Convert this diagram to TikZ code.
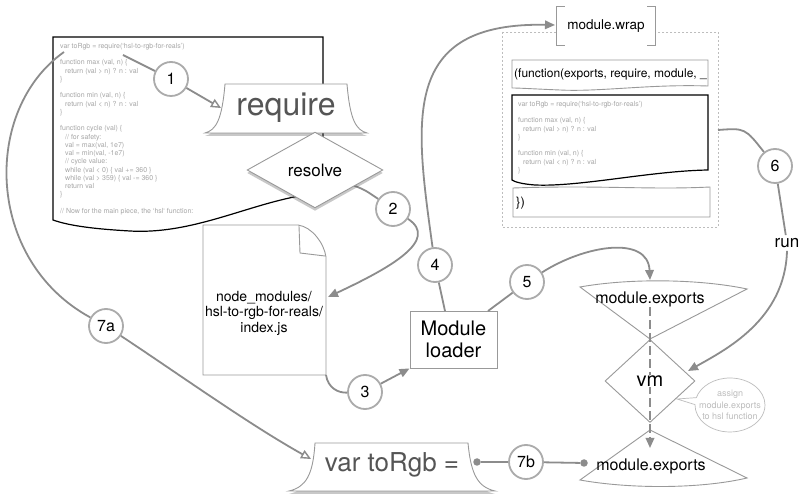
\documentclass[tikz,border=0pt]{standalone}
\usepackage{fontspec}
\setmainfont{TeX Gyre Heros}
\usetikzlibrary{shapes.geometric,shapes.callouts,arrows.meta,shadows}
\definecolor{connc}{HTML}{8C8C8C}
\definecolor{circc}{HTML}{ABABAB}
\definecolor{edgec}{HTML}{999999}
\definecolor{darkc}{HTML}{555555}
\definecolor{codec}{HTML}{A6A6A6}
\definecolor{faintc}{HTML}{BDBDBD}
\tikzset{
  conn/.style={draw=connc, line width=1.8pt},
  fillarrow/.style={-{Triangle[length=10pt,width=8.5pt]}},
  openarrow/.style={-{Triangle[open,length=10pt,width=9pt,line width=1.4pt]}},
  num/.style={circle, draw=circc, line width=1.8pt, fill=white, minimum size=34pt, inner sep=0pt, font=\fontsize{16}{16}\selectfont},
  codetext/.style={align=left, anchor=north west, text=codec, font=\fontsize{7}{8.25}\selectfont, inner sep=0pt},
  shade/.style={drop shadow={shadow xshift=0pt, shadow yshift=-3pt, opacity=0.3, fill=black!70}},
  thinedge/.style={draw=edgec, line width=0.9pt},
  dotnode/.style={circle, fill=connc, minimum size=7.5pt, inner sep=0pt},
}
\begin{document}
\begin{tikzpicture}[x=1pt,y=-1pt]
\useasboundingbox (0,0) rectangle (809,502);
\fill[white] (0,0) rectangle (809,502);

% ---------- left code document ----------
\path[draw=black, line width=1.2pt, fill=white] (53,37) -- (323,37) -- (323,193)
  .. controls (260,197) and (200,235) .. (130,231)
  .. controls (95,229) and (70,226) .. (53,220) -- cycle;
\node[codetext] (codeL) at (60,43) {var toRgb = require(`hsl-to-rgb-for-reals')\\
\mbox{}\\
function max (val, n) \{\\
\hspace*{5pt}return (val > n) ? n : val\\
\}\\
\mbox{}\\
function min (val, n) \{\\
\hspace*{5pt}return (val < n) ? n : val\\
\}\\
\mbox{}\\
function cycle (val) \{\\
\hspace*{5pt}// for safety:\\
\hspace*{5pt}val = max(val, 1e7)\\
\hspace*{5pt}val = min(val, -1e7)\\
\hspace*{5pt}// cycle value:\\
\hspace*{5pt}while (val < 0) \{ val += 360 \}\\
\hspace*{5pt}while (val > 359) \{ val -= 360 \}\\
\hspace*{5pt}return val\\
\}\\
\mbox{}\\
// Now for the main piece, the `hsl` function:};

% ---------- module.wrap container ----------
\draw[faintc, line width=0.7pt, dash pattern=on 2pt off 2pt] (502,32) rectangle (718,227);
\node[fill=white, minimum width=98pt, minimum height=38pt, inner sep=0pt, font=\fontsize{13.5}{14}\selectfont] (wrap) at (606,26) {module.wrap};
\draw[edgec, line width=1pt] ([xshift=8pt]wrap.north west) -- (wrap.north west) -- (wrap.south west) -- ([xshift=8pt]wrap.south west);
\draw[edgec, line width=1pt] ([xshift=-8pt]wrap.north east) -- (wrap.north east) -- (wrap.south east) -- ([xshift=-8pt]wrap.south east);

\path[thinedge, fill=white] (512,60) -- (708,60) -- (708,86)
  .. controls (650,84) and (600,92) .. (560,90)
  .. controls (535,89) and (520,88) .. (512,88) -- cycle;
\node[anchor=west, inner sep=0pt, font=\fontsize{12}{12}\selectfont] (fnhead) at (514,74) {(function(exports, require, module, \_};

\path[draw=black, line width=1.2pt, fill=white] (512,95) -- (708,95) -- (708,170)
  .. controls (650,171) and (580,187) .. (535,185)
  .. controls (522,184) and (515,182) .. (512,180) -- cycle;
\node[codetext] (codeW) at (518,101) {var toRgb = require(`hsl-to-rgb-for-reals')\\
\mbox{}\\
function max (val, n) \{\\
\hspace*{5pt}return (val > n) ? n : val\\
\}\\
\mbox{}\\
function min (val, n) \{\\
\hspace*{5pt}return (val < n) ? n : val\\
\}};

\path[thinedge, fill=white] (513,188) .. controls (600,185) and (650,190) .. (710,187) -- (710,217) -- (513,217) -- cycle;
\node[anchor=west, inner sep=0pt, font=\fontsize{13}{13}\selectfont] (fnclose) at (516,203) {\})};

% ---------- node_modules document ----------
\path[thinedge, fill=white] (203,225) -- (298,225) .. controls (312,227) and (324,243) .. (326,257) -- (326,375) -- (203,375) -- cycle;
\draw[edgec, line width=0.9pt] (299,226) -- (300,253) -- (325,256);
\node[align=center, inner sep=0pt, font=\fontsize{14}{15.5}\selectfont] (docf) at (264,313) {node\_modules/\\hsl-to-rgb-for-reals/\\index.js};

% ---------- Module loader ----------
\node[thinedge, fill=white, minimum width=87pt, minimum height=57pt, inner sep=0pt, align=center, font=\fontsize{20}{22}\selectfont] (ml) at (453.5,339.5) {Module\\loader};

% ---------- coordinates ----------
\coordinate (c1s) at (123,55);
\coordinate (reqL) at (221,108);
\coordinate (c7s) at (64,52);
\coordinate (vtL) at (311,459);
\coordinate (docA) at (328,297);
\coordinate (docSE) at (326,375);
\coordinate (ml4) at (445,311);
\coordinate (ml5) at (488,311);
\coordinate (wrapTip) at (555,25);
\coordinate (expTip) at (650,280);
\coordinate (w6) at (718,130);
\coordinate (vmTip) at (688,371);
\coordinate (dashS) at (650,307);
\coordinate (dashE) at (650,448);
\coordinate (vmpt) at (677,399);

% ---------- numbered circles ----------
\node[num] (n1) at (171,79) {1};
\node[num] (n2) at (393,209) {2};
\node[num] (n3) at (365,392) {3};
\node[num] (n4) at (435,265) {4};
\node[num] (n5) at (527,282) {5};
\node[num] (n6) at (775,166) {6};
\node[num] (n7a) at (106,326) {7a};
\node[num] (n7b) at (526,462) {7b};
\node[inner sep=3pt, font=\fontsize{17}{17}\selectfont] (run) at (787,243) {run};

% ---------- resolve diamond (node for connector) ----------
\node[diamond, aspect=1.8, minimum width=135pt, minimum height=75pt, inner sep=0pt] (res) at (315,170) {};

% ---------- connectors ----------
\draw[conn] (c1s) -- (n1);
\draw[conn, openarrow] (n1) -- (reqL);
\draw[conn] (c7s) .. controls (-18,110) and (-15,260) .. (n7a);
\draw[conn, openarrow] (n7a) .. controls (180,375) and (250,425) .. (vtL);
\draw[conn] (res) .. controls (365,190) .. (n2);
\draw[conn, fillarrow] (n2) .. controls (440,240) and (390,268) .. (docA);
\draw[conn] (docSE) .. controls (328,388) and (338,393) .. (n3);
\draw[conn, fillarrow] (n3) -- (ml.south west);
\draw[conn] (ml4) -- (n4);
\draw[conn, fillarrow] (n4) .. controls (415,120) and (400,22) .. (wrapTip);
\draw[conn] (ml5) -- (n5);
\draw[conn, fillarrow] (n5) .. controls (585,245) and (648,235) .. (expTip);
\draw[conn] (w6) .. controls (745,128) .. (n6);
\draw[conn] (n6) -- (run);
\draw[conn, fillarrow] (run.south) .. controls (785,320) and (725,350) .. (vmTip);

% ---------- require shape ----------
\path[draw=edgec, line width=0.9pt, fill=white, shade] (225,84) -- (347,84)
  .. controls (350,120) and (356,130) .. (367,133) -- (205,133)
  .. controls (216,130) and (222,120) .. (225,84) -- cycle;
\node[text=darkc, inner sep=0pt, font=\fontsize{32}{32}\selectfont] (req) at (286,108) {require};

% ---------- resolve diamond ----------
\path[draw=edgec, line width=0.9pt, fill=white, shade] (res.north) -- (res.east) -- (res.south) -- (res.west) -- cycle;
\node[inner sep=0pt, font=\fontsize{17}{17}\selectfont] (restext) at (res.center) {resolve};

% ---------- var toRgb shape ----------
\path[draw=edgec, line width=0.9pt, fill=white, shade] (315,443) -- (468,443)
  .. controls (471,475) and (478,487) .. (495,491) -- (289,491)
  .. controls (306,487) and (313,475) .. (315,443) -- cycle;
\node[text=darkc, inner sep=0pt, font=\fontsize{26}{26}\selectfont] (vt) at (392,465) {var toRgb =};

% ---------- module.exports shapes ----------
\path[thinedge, fill=white] (580,287) .. controls (630,278) and (700,279) .. (747,289) -- (650,339) -- cycle;
\node[inner sep=0pt, font=\fontsize{16}{16}\selectfont] (expTop) at (650,299) {module.exports};
\path[thinedge, fill=white] (650,430) -- (747,478) .. controls (700,489) and (630,489) .. (580,480) -- cycle;
\node[inner sep=0pt, font=\fontsize{16}{16}\selectfont] (expBot) at (651,466) {module.exports};

% ---------- callout ----------
\node[ellipse callout, draw=faintc, line width=0.7pt, fill=white, minimum width=70pt, minimum height=54pt, inner sep=0pt, callout absolute pointer={(vmpt)}] (callout) at (730,405) {};
\node[align=center, text=faintc, inner sep=0pt, font=\fontsize{9}{11.3}\selectfont] (callouttext) at (730,405) {assign\\module.exports\\to hsl function};

% ---------- vm diamond ----------
\node[diamond, thinedge, fill=white, aspect=1, minimum width=90pt, minimum height=83pt, inner sep=0pt] (vm) at (650,381) {};
\draw[conn, fillarrow, dash pattern=on 9pt off 4pt] (dashS) -- (dashE);
\node[fill=white, inner sep=0.5pt, font=\fontsize{20}{20}\selectfont] (vmtext) at (650,381) {vm};

% ---------- 7b connector ----------
\node[dotnode] (dL) at (477,462) {};
\node[dotnode] (dR) at (584,463) {};
\draw[conn] (dL) -- (n7b);
\draw[conn] (n7b) -- (dR);

\end{tikzpicture}
\end{document}
